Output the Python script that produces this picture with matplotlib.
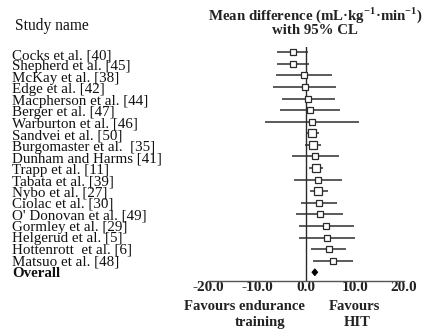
import matplotlib
matplotlib.use("Agg")
import matplotlib.pyplot as plt
from matplotlib.patches import Polygon

plt.rcParams['font.family'] = ['Liberation Serif', 'DejaVu Serif']
plt.rcParams['mathtext.fontset'] = 'custom'
plt.rcParams['mathtext.rm'] = 'Liberation Serif'
plt.rcParams['mathtext.bf'] = 'Liberation Serif:bold'

studies = ["Cocks et al. [40]", "Shepherd et al. [45]", "McKay et al. [38]",
           "Edge et al. [42]", "Macpherson et al. [44]", "Berger et al. [47]",
           "Warburton et al. [46]", "Sandvei et al. [50]", "Burgomaster et al.  [35]",
           "Dunham and Harms [41]", "Trapp et al. [11]", "Tabata et al. [39]",
           "Nybo et al. [27]", "Ciolac et al. [30]", "O' Donovan et al. [49]",
           "Gormley et al. [29]", "Helgerud et al. [5]", "Hottenrott  et al. [6]",
           "Matsuo et al. [48]"]
mean = [-2.6, -2.6, -0.4, -0.3, 0.5, 0.9, 1.2, 1.3, 1.5, 1.8, 2.1, 2.4, 2.5,
        2.7, 2.8, 4.1, 4.3, 4.6, 5.6]
lower = [-5.9, -5.9, -6.1, -6.7, -5.0, -5.3, -8.4, 0.0, -0.2, -2.9, 0.7, -2.4,
         0.8, -1.1, -2.0, -1.4, -1.4, 1.0, 1.5]
upper = [0.5, 0.7, 5.4, 6.2, 5.9, 7.0, 10.8, 2.7, 3.0, 6.7, 3.5, 7.3, 4.4,
         6.3, 7.5, 9.8, 10.1, 8.2, 9.6]
weight = [1, 1, 1, 1, 1, 1, 1, 2, 2, 1, 2, 1, 2, 1, 1, 1, 1, 1, 1]
overall_label = "Overall"
overall = (1.8, 1.2, 2.4)
xticks = [-20, -10, 0, 10, 20]
xticklabels = ["-20.0", "-10.0", "0.0", "10.0", "20.0"]

W, H = 425, 330
fig = plt.figure(figsize=(W / 100, H / 100), dpi=100)
left, right = 208 / W, 404 / W
top, bottom = 1 - 47 / H, 1 - 280.7 / H
ax = fig.add_axes([left, bottom, right - left, top - bottom])
n = len(studies)
ax.set_xlim(-20, 20)
ax.set_ylim(n + 0.73, -0.46)

lc = '#2e2e2e'
for i in range(n):
    ax.plot([lower[i], upper[i]], [i, i], color=lc, lw=1.1,
            solid_capstyle='butt', zorder=2)
    ms = 3.7 if weight[i] == 1 else 6.3
    ax.plot([mean[i]], [i], marker='s', ms=ms, mfc='white', mec='#2a2a2a',
            mew=0.9, zorder=3, linestyle='none')

m, lo, hi = overall
yo = n
dia = Polygon([[lo, yo], [m, yo - 0.3], [hi, yo], [m, yo + 0.3]],
              closed=True, facecolor='black', edgecolor='black', lw=0.6, zorder=3)
ax.add_patch(dia)

ax.axvline(0, color='#2a2a2a', lw=1.0, zorder=1)

for s in ['top', 'left', 'right']:
    ax.spines[s].set_visible(False)
ax.spines['bottom'].set_color('#555555')
ax.spines['bottom'].set_linewidth(1.0)
ax.set_yticks([])
ax.set_xticks(xticks)
ax.set_xticklabels(xticklabels, fontsize=11, fontweight='bold', color='#222222')
ax.tick_params(axis='x', length=0, pad=0.3)

label_fs = 10.8
for i, s in enumerate(studies):
    base_px = 59 + i * 11.46
    fig.text(12 / W, 1 - base_px / H, s, fontsize=label_fs, va='baseline',
             ha='left', color='#111111')
fig.text(12 / W, 1 - (59 + n * 11.46) / H, overall_label, fontsize=label_fs,
         va='baseline', ha='left', fontweight='bold', color='#111111')

fig.text(15 / W, 1 - 26 / H, "Study name", fontsize=11.2, va='center', ha='left',
         color='#111111')
fig.text(315 / W, 1 - 15 / H,
         r"Mean difference (mL·kg$^{\mathbf{-1}}$·min$^{\mathbf{-1}}$)",
         fontsize=10.7, fontweight='bold', va='center', ha='center', color='#222222')
fig.text(315 / W, 1 - 30 / H, "with 95% CL", fontsize=10.7, fontweight='bold',
         va='center', ha='center', color='#222222')

fig.text(244 / W, 1 - 306.7 / H, "Favours endurance", fontsize=10.5,
         fontweight='bold', va='center', ha='center', color='#222222')
fig.text(260 / W, 1 - 322.7 / H, "training", fontsize=10.5,
         fontweight='bold', va='center', ha='center', color='#222222')
fig.text(354 / W, 1 - 306.7 / H, "Favours", fontsize=10.5,
         fontweight='bold', va='center', ha='center', color='#222222')
fig.text(357.5 / W, 1 - 322.7 / H, "HIT", fontsize=10.5,
         fontweight='bold', va='center', ha='center', color='#222222')

fig.savefig("out.png", dpi=100, facecolor='white')
